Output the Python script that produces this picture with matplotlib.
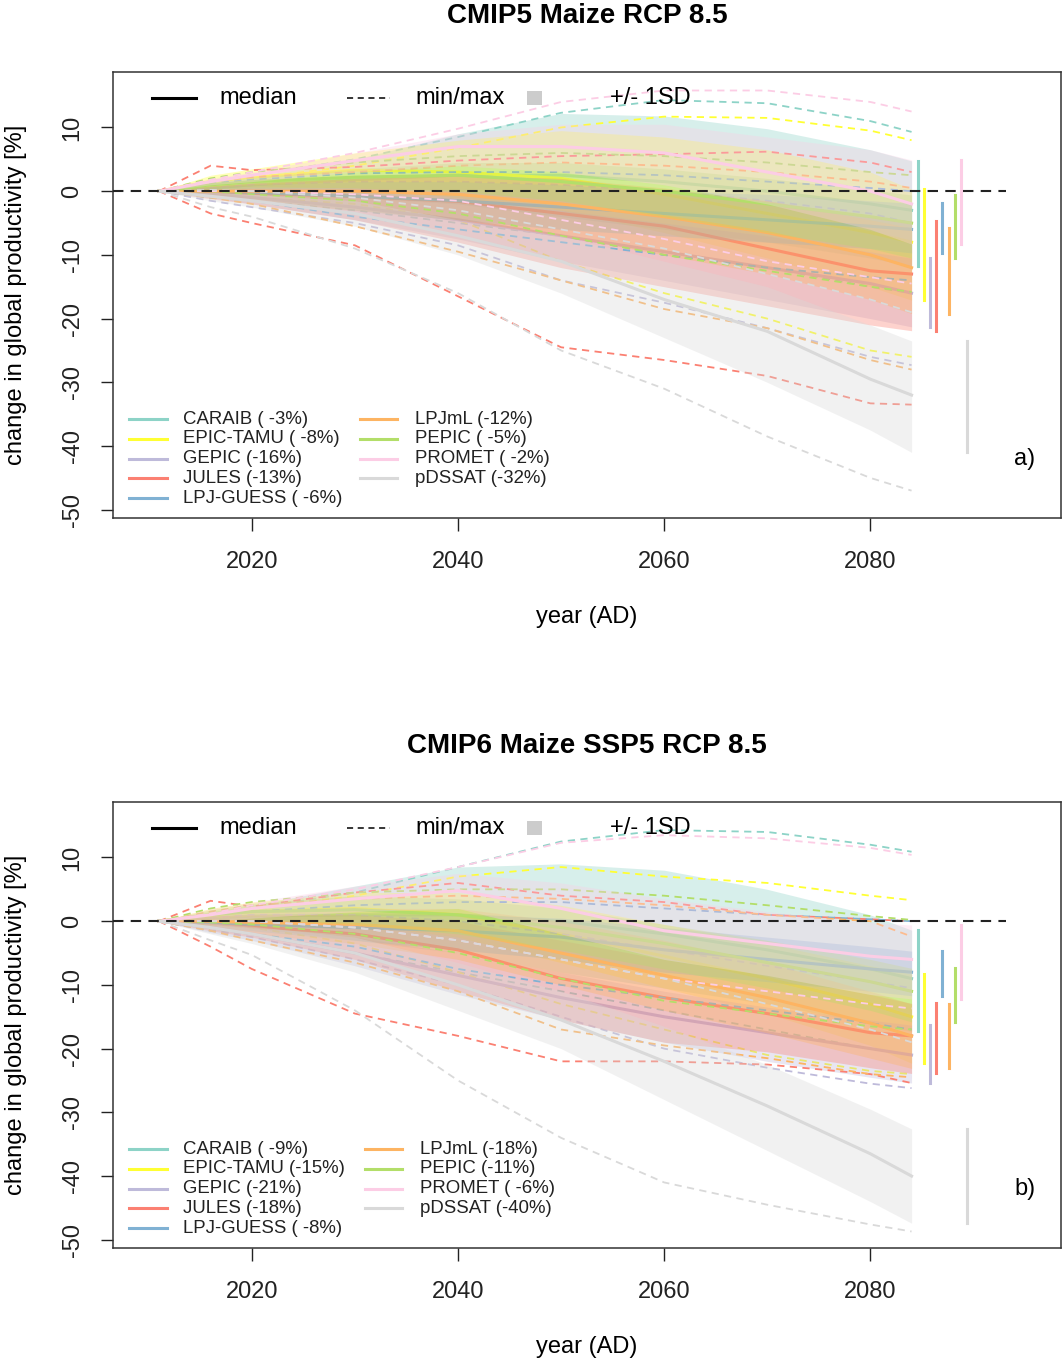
import matplotlib
matplotlib.use("Agg")
import matplotlib.pyplot as plt
from matplotlib.patches import Rectangle

plt.rcParams["font.family"] = ["Liberation Sans", "DejaVu Sans"]
plt.rcParams["axes.unicode_minus"] = False

YEARS = [2011, 2016, 2020, 2030, 2040, 2050, 2060, 2070, 2080, 2084]
MODELS = ["CARAIB", "EPIC-TAMU", "GEPIC", "JULES", "LPJ-GUESS",
          "LPJmL", "PEPIC", "PROMET", "pDSSAT"]
COLORS = ["#8DD3C7", "#FFFF33", "#BEBADA", "#FB8072", "#80B1D3",
          "#FDB462", "#B3DE69", "#FCCDE5", "#D9D9D9"]

# ---- panel a: CMIP5 (rows follow MODELS, columns follow YEARS) ----
A_MED = [
    [0, 0.5, 1, 1.8, 2.5, 2.5, 1.5, 0, -2, -3],
    [0, 1.5, 2.2, 3.3, 3, 2, -0.5, -3.5, -6.5, -8],
    [0, -0.5, -1, -2.5, -4.5, -7, -9.5, -12, -14.5, -16],
    [0, 0, -0.3, -0.8, -1.6, -3.5, -5.5, -9, -12.5, -13],
    [0, 0, -0.2, -0.8, -1.5, -2.5, -3.5, -4.5, -5.5, -6],
    [0, 0, 0, 0, -0.5, -2, -4, -6.5, -10, -12],
    [0, 1, 1.5, 2.2, 2.5, 1.5, 0, -2, -4, -5],
    [0, 1.5, 2.5, 4.8, 7, 7, 6, 3, 0, -2],
    [0, -0.8, -1.5, -3.5, -7, -11, -17, -22, -29.5, -32],
]
A_HI = [
    [0, 1.2, 2.2, 5, 9, 12.2, 11.8, 9.8, 6.5, 4.75],
    [0, 2.5, 3.5, 6, 8, 9.5, 8.5, 6.5, 3, 0.3],
    [0, 0, 0, -0.5, -1.5, -3, -5, -7, -9.5, -10.5],
    [0, 0.8, 1.2, 2, 2.5, 2, 0, -1.5, -4, -4.7],
    [0, 0.7, 1, 1.5, 1.5, 1, 0, -0.5, -1.5, -1.9],
    [0, 1, 1.5, 2, 2.5, 2, 0.5, -1.5, -4.5, -5.75],
    [0, 1.5, 2.2, 3.5, 4.5, 4.5, 3.5, 2, 0.2, -0.6],
    [0, 2, 3, 6, 9, 10.5, 10.5, 8.5, 6.5, 4.9],
    [0, -0.2, -0.5, -1.5, -4.5, -7, -11, -15, -21, -23.5],
]
A_LO = [
    [0, -0.5, -0.5, -1, -2, -4, -6, -8, -10.5, -11.75],
    [0, 0.5, 0.8, 0.5, -1, -3, -6.5, -10.5, -15, -17.1],
    [0, -1, -2, -4.5, -7.5, -11, -14, -17, -20, -21.3],
    [0, -1.2, -2, -4.5, -8, -12, -15, -18, -21, -21.9],
    [0, -0.8, -1.3, -3, -4.5, -6, -7, -8, -9, -9.7],
    [0, -1, -1.5, -3, -4.5, -7, -10, -13, -17, -19.2],
    [0, 0.3, 0.5, 0.5, 0, -1.5, -4, -6.5, -9, -10.5],
    [0, 1, 1.5, 3, 4, 3, 1, -2, -6, -8.3],
    [0, -1.5, -2.5, -5.5, -10, -16, -23, -30, -37.5, -41],
]
A_MIN = [
    [0, -1, -1.5, -3, -5, -7, -10, -12, -15, -16],
    [0, -0.5, -1, -2, -4.5, -11, -16, -20, -25, -26],
    [0, -1.5, -2.5, -5, -8.5, -14, -17.5, -21.5, -26, -27.3],
    [0, -3.5, -5, -8.5, -16.5, -24.5, -26.5, -29, -33.3, -33.5],
    [0, -1, -1.5, -4, -6, -8, -10, -12, -13.5, -14],
    [0, -1, -2, -5.5, -9.5, -14, -18.5, -21.5, -26.5, -28],
    [0, 0, -0.5, -1.5, -3.5, -7, -10, -12.5, -15, -15.8],
    [0, 0, 0, -0.5, -1.5, -4.5, -7.5, -11, -13.5, -14.5],
    [0, -2.5, -4, -9, -16, -25, -31, -38.5, -45, -47],
]
A_MAX = [
    [0, 1.5, 2.5, 5, 8.5, 12.3, 14.3, 13.8, 11, 9.3],
    [0, 1, 2, 4, 6.8, 10, 11.7, 11.5, 9.5, 8],
    [0, 0.5, 1, 1.5, 1.5, 1, 0, -1.5, -3.5, -5],
    [0, 4, 3.3, 3.8, 4.8, 5.5, 5.8, 6.2, 4.5, 3],
    [0, 1.2, 1.8, 2.8, 3, 3, 2.5, 1.5, 0.5, 0],
    [0, 1.5, 2.2, 3, 4, 4.5, 4, 3, 1.5, 0.5],
    [0, 2, 3, 4.5, 5.5, 6, 5.5, 4.5, 3, 2.5],
    [0, 1.8, 3, 6, 9.8, 14, 15.8, 15.8, 14, 12.5],
    [0, 0.2, 0, -1, -3, -6, -9, -13, -17, -19],
]

# ---- panel b: CMIP6 ----
B_MED = [
    [0, 0.5, 0.8, 1, 1, 0, -2, -4.5, -7.5, -9],
    [0, 1, 1.5, 2, 1, -2, -5.5, -9, -13, -15],
    [0, -1, -2, -5, -8.5, -12, -15, -17.5, -20, -21],
    [0, -0.3, -0.8, -2, -4.5, -9, -12, -14.5, -17.5, -18],
    [0, -0.2, -0.5, -1, -1.5, -2.5, -4.5, -6, -7.5, -8],
    [0, 0, -0.2, -0.5, -1.5, -5, -8.5, -12, -16, -18],
    [0, 1, 1.5, 1.8, 1, -1, -3.5, -6.5, -9.5, -11],
    [0, 1, 2, 3.5, 4.8, 2, -1.5, -3.5, -5.5, -6],
    [0, -1, -2, -5, -10, -15.5, -22, -29, -36.5, -40],
]
B_HI = [
    [0, 1.5, 2.5, 5.5, 8.5, 9, 8, 5, 1, -1.4],
    [0, 2, 3, 4.5, 4.5, 2.5, -0.5, -3.5, -7, -8.3],
    [0, -0.3, -0.8, -2.5, -5, -8, -11, -13.5, -15.5, -16.3],
    [0, 0.8, 1, 1, 0, -3, -6, -8.5, -11.5, -12.9],
    [0, 0.5, 0.8, 1, 1, 0.5, -1, -2.5, -4, -4.7],
    [0, 1, 1.5, 2, 2, 0, -3, -6.5, -11, -13],
    [0, 1.8, 2.8, 4, 3.5, 2, -0.5, -3, -6, -7.4],
    [0, 2, 3, 5.5, 7.5, 6, 3.5, 1.5, -0.2, -0.6],
    [0, -0.3, -0.8, -2.5, -6.5, -11, -16.5, -22.5, -29.5, -32.6],
]
B_LO = [
    [0, -0.5, -1, -3, -5, -8, -10.5, -13, -16, -17.3],
    [0, 0, 0, -0.5, -2.5, -6.5, -10.5, -14.5, -19.5, -22.3],
    [0, -1.8, -3, -7, -11.5, -15.5, -19, -22, -24.5, -25.4],
    [0, -1.5, -2.5, -6, -11, -15.5, -19, -20.5, -23, -23.9],
    [0, -1, -1.5, -3, -4.5, -6, -8, -9.5, -11, -11.7],
    [0, -1, -2, -3.5, -6, -10, -14, -17.5, -21.5, -23.1],
    [0, 0.3, 0.3, -0.5, -2, -4.5, -7.5, -10.5, -14, -15.8],
    [0, 0, 0.5, 1.5, 2, -2, -6, -8.5, -11.5, -12.2],
    [0, -2, -3.5, -8, -14, -20, -28, -36, -44, -47.4],
]
B_MIN = [
    [0, -1.5, -2, -5, -8, -11, -14, -17, -20, -21],
    [0, -0.5, -1, -3.5, -8, -13, -17, -21, -23.5, -24],
    [0, -1.5, -2.5, -6, -10, -15, -20, -23, -25.5, -26.2],
    [0, -4, -7.5, -14.5, -18, -22, -22, -22.5, -24, -25.4],
    [0, -1, -2, -4, -7.5, -10, -12, -14, -16, -17],
    [0, -1.5, -3, -6.5, -11, -17, -19.5, -21.5, -24, -24.5],
    [0, -0.2, -0.5, -2, -5, -9, -12.5, -14.5, -16.5, -17],
    [0, 0, 0, -1, -3, -6, -9, -11, -13, -13.7],
    [0, -3, -5.3, -14, -25, -34, -41, -44.5, -47.6, -48.7],
]
B_MAX = [
    [0, 1, 2, 4.5, 8.5, 12.5, 14.3, 14, 12, 10.9],
    [0, 1, 1.8, 4, 7, 8.5, 7, 6, 4, 3.3],
    [0, 0.5, 1, 1, 0, -2, -4.5, -7, -9.5, -10.5],
    [0, 3.2, 2.3, 4.5, 6, 4, 3, 1, 0.3, 0],
    [0, 1, 1.5, 2.5, 3, 3, 2, 1, 0.3, 0],
    [0, 1.5, 2.5, 3.5, 4, 3.5, 2.5, 1, 0, -2.4],
    [0, 2, 3, 4.5, 5, 5, 4, 2.5, 0.8, 0.2],
    [0, 1.2, 2.5, 5, 8.5, 12.3, 13.5, 13, 11.5, 10.4],
    [0, 0, 0, -1, -3, -6, -9, -13, -17, -19],
]

BAR_X0 = 2084.6      # first end-of-century SD bar
BAR_STEP = 0.6
FS = 17


def draw_panel(ax, med, lo, hi, mn, mx, tag, col2):
    # one model after the other: band, median, min/max, like the original
    for i, c in enumerate(COLORS):
        z = 1 + i * 0.01
        ax.fill_between(YEARS, lo[i], hi[i], color=c, alpha=0.35, lw=0, zorder=z)
        ax.plot(YEARS, med[i], color=c, lw=2.2, zorder=z)
        ax.plot(YEARS, mn[i], color=c, lw=1.3, ls=(0, (4, 3)), zorder=z)
        ax.plot(YEARS, mx[i], color=c, lw=1.3, ls=(0, (4, 3)), zorder=z)
        ax.plot([BAR_X0 + i * BAR_STEP] * 2, [lo[i][-1], hi[i][-1]],
                color=c, lw=2.2, zorder=3)
    ax.hlines(0, 2006.5, 2093.2, colors="#222222", lw=1.5,
              linestyles=(0, (5, 3.5)), zorder=5)

    ax.set_xlim(2006.5, 2098.5)
    ax.set_ylim(-51.3, 18.7)
    ax.set_xticks([2020, 2040, 2060, 2080])
    ax.set_yticks([-50, -40, -30, -20, -10, 0, 10])
    ax.tick_params(axis="both", direction="out", length=9, width=1,
                   labelsize=FS, colors="#222222")
    ax.tick_params(axis="x", pad=15)
    ax.tick_params(axis="y", pad=12)
    for lab in ax.get_yticklabels():
        lab.set_rotation(90)
        lab.set_va("center")
    for s in ax.spines.values():
        s.set_linewidth(1.1)
        s.set_color("#333333")

    # top legend
    tr = ax.transAxes
    yl = 0.9417
    ax.plot([0.0415, 0.0879], [yl, yl], color="black", lw=2.2, transform=tr)
    ax.text(0.1123, yl, "median", fontsize=FS, va="center", transform=tr)
    ax.plot([0.2472, 0.2926], [yl, yl], color="black", lw=1.1,
            ls=(0, (4, 3)), transform=tr)
    ax.text(0.3188, yl, "min/max", fontsize=FS, va="center", transform=tr)
    ax.add_patch(Rectangle((0.4369, yl - 0.0157), 0.0158, 0.0314,
                           color="#CCCCCC", transform=tr, lw=0))
    ax.text(0.5244, yl, "+/- 1SD", fontsize=FS, va="center", transform=tr)

    # model legend
    for i, name in enumerate(MODELS):
        col, row = divmod(i, 5)
        y = 0.222 - row * 0.0443
        x0, x1, xt = (0.0172, 0.0573, 0.0740) if col == 0 else col2
        ax.plot([x0, x1], [y, y], color=COLORS[i], lw=2.2, transform=tr)
        pct = int(round(med[i][-1]))
        ax.text(xt, y, f"{name} ({pct:3d}%)", fontsize=13.4,
                va="center", transform=tr, color="#222222")

    ax.text(2095, -42, tag, fontsize=FS, va="center", ha="center")


fig = plt.figure(figsize=(10.62, 13.64), dpi=100)
ax_a = fig.add_axes([0.1061, 0.6202, 0.8930, 0.3270])
ax_b = fig.add_axes([0.1061, 0.0850, 0.8930, 0.3270])

draw_panel(ax_a, A_MED, A_LO, A_HI, A_MIN, A_MAX, "a)",
           (0.2608, 0.2997, 0.3188))
draw_panel(ax_b, B_MED, B_LO, B_HI, B_MIN, B_MAX, "b)",
           (0.2661, 0.3050, 0.3241))

fig.text(0.5527, 0.988, "CMIP5 Maize RCP 8.5", fontsize=20,
         fontweight="bold", ha="center", va="center")
fig.text(0.5527, 0.453, "CMIP6 Maize SSP5 RCP 8.5", fontsize=20,
         fontweight="bold", ha="center", va="center")
for yc in (0.5477, 0.0125):
    fig.text(0.5527, yc, "year (AD)", fontsize=FS, ha="center", va="center")
for yc in (0.7837, 0.2485):
    fig.text(0.0151, yc, "change in global productivity [%]", fontsize=FS,
             rotation=90, ha="center", va="center")

fig.savefig("out.png", dpi=100)
